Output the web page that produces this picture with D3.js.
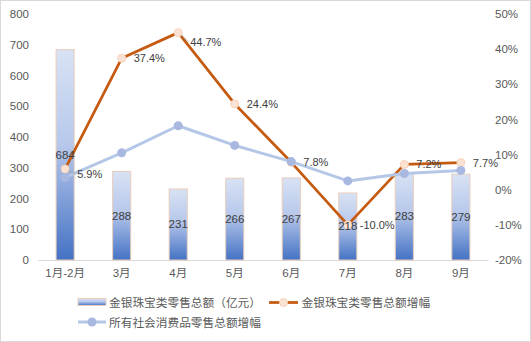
<!DOCTYPE html>
<html><head><meta charset="utf-8">
<script src="https://cdn.jsdelivr.net/npm/d3@7/dist/d3.min.js"></script>
<style>body{margin:0;background:#fff}svg{display:block}</style>
</head><body>
<svg id="c" width="531" height="342"></svg>
<script>
const categories = ["1月-2月","3月","4月","5月","6月","7月","8月","9月"];
const jewelrySales = [684,288,231,266,267,218,283,279];
const jewelryGrowth = [5.9,37.4,44.7,24.4,7.8,-10.0,7.2,7.7];
const socialGrowth = [3.5,10.5,18.2,12.6,8.0,2.5,4.6,5.5];
const leftTicks = [0,100,200,300,400,500,600,700,800];
const rightTicks = [-20,-10,0,10,20,30,40,50];
const seriesNames = ["金银珠宝类零售总额（亿元）","金银珠宝类零售总额增幅","所有社会消费品零售总额增幅"];

const FONT = "'Liberation Sans','Noto Sans CJK SC',sans-serif";
const svg = d3.select("#c");
svg.append("rect").attr("x",0.5).attr("y",0.5).attr("width",530).attr("height",341)
  .attr("fill","#fff").attr("stroke","#D9D9D9");

const defs = svg.append("defs");
const g1 = defs.append("linearGradient").attr("id","barGrad").attr("x1",0).attr("y1",0).attr("x2",0).attr("y2",1);
g1.append("stop").attr("offset","0%").attr("stop-color","#D8E2F4");
g1.append("stop").attr("offset","45%").attr("stop-color","#B7C8EB");
g1.append("stop").attr("offset","100%").attr("stop-color","#4472C4");

const x = d3.scaleBand().domain(categories).range([38,488]).paddingInner(0.68).paddingOuter(0.32);
const yL = d3.scaleLinear().domain([0,800]).range([260,14]);
const yR = d3.scaleLinear().domain([-20,50]).range([260,14]);
const cx = c => x(c) + x.bandwidth()/2;

// axes
const axL = svg.append("g").attr("transform","translate(29,0)")
  .call(d3.axisLeft(yL).tickValues(leftTicks).tickSize(0).tickPadding(0));
axL.select(".domain").remove();
const axR = svg.append("g").attr("transform","translate(495,0)")
  .call(d3.axisRight(yR).tickValues(rightTicks).tickFormat(d=>d+"%").tickSize(0).tickPadding(0));
axR.select(".domain").remove();
const axB = svg.append("g").attr("transform","translate(0,260)")
  .call(d3.axisBottom(x).tickSize(0).tickPadding(9));
axB.select(".domain").attr("stroke","#D9D9D9");
svg.selectAll(".tick text").attr("font-family",FONT).attr("font-size","11.5px").attr("fill","#595959");

// bars
svg.append("g").selectAll("rect").data(categories).join("rect")
  .attr("x",c=>x(c)).attr("width",x.bandwidth())
  .attr("y",(c,i)=>yL(jewelrySales[i])).attr("height",(c,i)=>yL(0)-yL(jewelrySales[i]))
  .attr("fill","url(#barGrad)").attr("stroke","#E9CDBC").attr("stroke-width",1);

// orange line
const lineO = d3.line().x((d,i)=>cx(categories[i])).y(d=>yR(d));
svg.append("path").datum(jewelryGrowth).attr("d",lineO).attr("fill","none")
  .attr("stroke","#C55A11").attr("stroke-width",2.75).attr("stroke-linejoin","round");
svg.append("g").selectAll("circle").data(jewelryGrowth).join("circle")
  .attr("cx",(d,i)=>cx(categories[i])).attr("cy",d=>yR(d)).attr("r",4)
  .attr("fill","#FBE3D3").attr("stroke","#F8D3BC");

// blue line
svg.append("path").datum(socialGrowth).attr("d",lineO).attr("fill","none")
  .attr("stroke","#B4C7E7").attr("stroke-width",3).attr("stroke-linejoin","round");
svg.append("g").selectAll("circle").data(socialGrowth).join("circle")
  .attr("cx",(d,i)=>cx(categories[i])).attr("cy",d=>yR(d)).attr("r",4.5)
  .attr("fill","#A8B8E0");

// bar labels
svg.append("g").selectAll("text").data(jewelrySales).join("text")
  .attr("x",(d,i)=>cx(categories[i])).attr("y",d=>(yL(d)+yL(0))/2)
  .attr("text-anchor","middle").attr("dominant-baseline","central")
  .attr("font-family",FONT).attr("font-size","11.5px").attr("fill","#404040").text(d=>d);

// orange labels
const nudge = i => (i===0?5:(i===2?9:0));
svg.append("g").selectAll("text").data(jewelryGrowth).join("text")
  .attr("x",(d,i)=>cx(categories[i])+12).attr("y",(d,i)=>yR(d)+nudge(i))
  .attr("dominant-baseline","central")
  .attr("font-family",FONT).attr("font-size","11px").attr("fill","#404040").text(d=>d.toFixed(1)+"%");
// leader lines for nudged labels
svg.append("g").selectAll("line").data([0,2]).join("line")
  .attr("x1",i=>cx(categories[i])+3).attr("y1",i=>yR(jewelryGrowth[i])+2)
  .attr("x2",i=>cx(categories[i])+10).attr("y2",i=>yR(jewelryGrowth[i])+nudge(i))
  .attr("stroke","#A6A6A6").attr("stroke-width",1);

// legend
const lg = svg.append("g").attr("font-family",FONT).attr("font-size","11.7px").attr("fill","#595959");
lg.append("rect").attr("x",78).attr("y",298.5).attr("width",28).attr("height",7).attr("fill","url(#barGrad)").attr("stroke","#E9CDBC");
lg.append("text").attr("x",109).attr("y",302.5).attr("dominant-baseline","central").text(seriesNames[0]);
lg.append("line").attr("x1",269).attr("x2",298).attr("y1",302.5).attr("y2",302.5).attr("stroke","#C55A11").attr("stroke-width",2.75);
lg.append("circle").attr("cx",283.5).attr("cy",302.5).attr("r",4).attr("fill","#FBE3D3").attr("stroke","#F8D3BC");
lg.append("text").attr("x",301.5).attr("y",302.5).attr("dominant-baseline","central").text(seriesNames[1]);
lg.append("line").attr("x1",78).attr("x2",106).attr("y1",322).attr("y2",322).attr("stroke","#B4C7E7").attr("stroke-width",3);
lg.append("circle").attr("cx",92).attr("cy",322).attr("r",4.5).attr("fill","#A8B8E0");
lg.append("text").attr("x",109).attr("y",322).attr("dominant-baseline","central").text(seriesNames[2]);
</script>
</body></html>
